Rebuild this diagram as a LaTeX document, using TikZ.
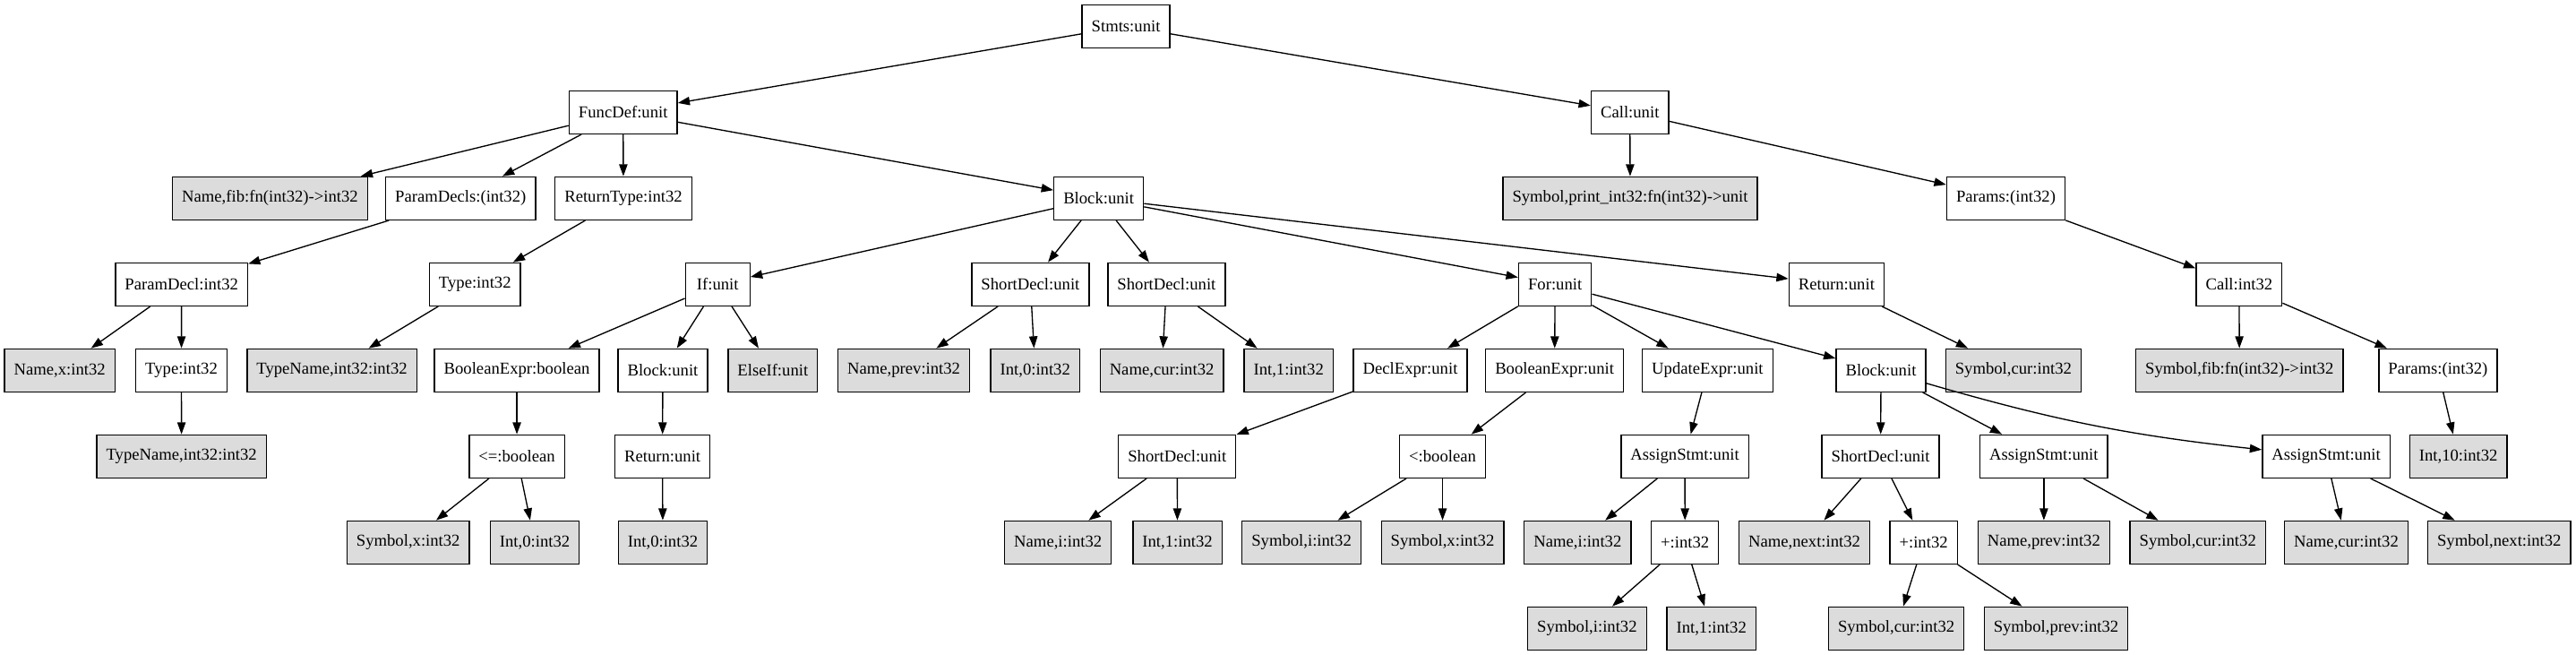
\documentclass[tikz,border=0pt]{standalone}
\usepackage{fontspec}
\setmainfont{Liberation Serif}
\usepackage{tikz}
\usetikzlibrary{arrows.meta}
\definecolor{leafgray}{RGB}{220,220,220}

\begin{document}
\begin{tikzpicture}[x=1pt, y=1pt,
    ast/.style={rectangle, draw=black, line width=1pt, minimum width=54pt, minimum height=36pt,
        inner xsep=7.92pt, inner ysep=3.96pt, font=\fontsize{14}{16}\selectfont},
    inner/.style={ast, fill=white},
    leaf/.style={ast, fill=leafgray}]
\useasboundingbox (0,0) rectangle (2157,-548.25);
\begin{scope}[every node/.style={inner}]
    \node (stmts) at (942.8,-22) {Stmts:unit};
    \node (funcdef) at (521.8,-94) {FuncDef:unit};
    \node (callu) at (1364.8,-94) {Call:unit};
    \node (paramdecls) at (385.7,-166) {ParamDecls:(int32)};
    \node (rettype) at (522,-166) {ReturnType:int32};
    \node (block) at (920,-166) {Block:unit};
    \node (params) at (1679.6,-166) {Params:(int32)};
    \node (paramdecl) at (152,-238) {ParamDecl:int32};
    \node (rtype) at (397.7,-238) {Type:int32};
    \node (if) at (600.9,-238) {If:unit};
    \node (sdprev) at (862.8,-238) {ShortDecl:unit};
    \node (sdcur) at (976.8,-238) {ShortDecl:unit};
    \node (for) at (1302.1,-238) {For:unit};
    \node (return) at (1537.8,-238) {Return:unit};
    \node (callint) at (1874.9,-238) {Call:int32};
    \node (ptype) at (151.9,-310) {Type:int32};
    \node (boolexpr) at (432.8,-310) {BooleanExpr:boolean};
    \node (ifblock) at (555,-310) {Block:unit};
    \node (declexpr) at (1180.9,-310) {DeclExpr:unit};
    \node (condexpr) at (1301.7,-310) {BooleanExpr:unit};
    \node (updexpr) at (1429.8,-310) {UpdateExpr:unit};
    \node (forblock) at (1575,-310) {Block:unit};
    \node (args) at (2041.4,-310) {Params:(int32)};
    \node (le) at (432.8,-382) {<=:boolean};
    \node (ifreturn) at (554.7,-382) {Return:unit};
    \node (sdi) at (985.7,-382) {ShortDecl:unit};
    \node (lt) at (1207.9,-382) {<:boolean};
    \node (assigni) at (1410.8,-382) {AssignStmt:unit};
    \node (sdnext) at (1574.7,-382) {ShortDecl:unit};
    \node (assignprev) at (1711.4,-382) {AssignStmt:unit};
    \node (assigncur) at (1947.8,-382) {AssignStmt:unit};
    \node (plusi) at (1410.9,-454) {+:int32};
    \node (plusnext) at (1610.7,-454) {+:int32};
\end{scope}
\begin{scope}[every node/.style={leaf}]
    \node (namefib) at (226.1,-166) {Name,fib:fn(int32)->int32};
    \node (symprint) at (1365,-166) {Symbol,print\_int32:fn(int32)->unit};
    \node (namex) at (50,-310) {Name,x:int32};
    \node (typename) at (277.9,-310) {TypeName,int32:int32};
    \node (elseif) at (647.1,-310) {ElseIf:unit};
    \node (nameprev) at (756.8,-310) {Name,prev:int32};
    \node (intzero) at (866.8,-310) {Int,0:int32};
    \node (namecur) at (972.8,-310) {Name,cur:int32};
    \node (intone) at (1079,-310) {Int,1:int32};
    \node (symcur) at (1685.9,-310) {Symbol,cur:int32};
    \node (symfib) at (1875.2,-310) {Symbol,fib:fn(int32)->int32};
    \node (ptypename) at (152,-382) {TypeName,int32:int32};
    \node (intten) at (2058.5,-382) {Int,10:int32};
    \node (lesymx) at (341.8,-454) {Symbol,x:int32};
    \node (lezero) at (447.8,-454) {Int,0:int32};
    \node (retzero) at (555,-454) {Int,0:int32};
    \node (namei) at (885.9,-454) {Name,i:int32};
    \node (initone) at (985.9,-454) {Int,1:int32};
    \node (ltsymi) at (1089.8,-454) {Symbol,i:int32};
    \node (ltsymx) at (1207.9,-454) {Symbol,x:int32};
    \node (assname) at (1321,-454) {Name,i:int32};
    \node (namenext) at (1510.9,-454) {Name,next:int32};
    \node (nameprev2) at (1711.4,-454) {Name,prev:int32};
    \node (symcur2) at (1840.3,-454) {Symbol,cur:int32};
    \node (namecur2) at (1964.6,-454) {Name,cur:int32};
    \node (symnext) at (2092.7,-454) {Symbol,next:int32};
    \node (plussymi) at (1328.9,-526) {Symbol,i:int32};
    \node (plusone) at (1433,-526) {Int,1:int32};
    \node (plussymcur) at (1587.8,-526) {Symbol,cur:int32};
    \node (plussymprev) at (1721.6,-526) {Symbol,prev:int32};
\end{scope}
\begin{scope}[>={Triangle[length=10pt,width=7pt]}, every edge/.style={draw=black,line width=1pt}]
    \path [->] (stmts) edge (funcdef);
    \path [->] (stmts) edge (callu);
    \path [->] (funcdef) edge (namefib);
    \path [->] (funcdef) edge (paramdecls);
    \path [->] (funcdef) edge (rettype);
    \path [->] (funcdef) edge (block);
    \path [->] (callu) edge (symprint);
    \path [->] (callu) edge (params);
    \path [->] (paramdecls) edge (paramdecl);
    \path [->] (rettype) edge (rtype);
    \path [->] (block) edge (if);
    \path [->] (block) edge (sdprev);
    \path [->] (block) edge (sdcur);
    \path [->] (block) edge (for);
    \path [->] (block) edge (return);
    \path [->] (params) edge (callint);
    \path [->] (paramdecl) edge (namex);
    \path [->] (paramdecl) edge (ptype);
    \path [->] (rtype) edge (typename);
    \path [->] (if) edge (boolexpr);
    \path [->] (if) edge (ifblock);
    \path [->] (if) edge (elseif);
    \path [->] (sdprev) edge (nameprev);
    \path [->] (sdprev) edge (intzero);
    \path [->] (sdcur) edge (namecur);
    \path [->] (sdcur) edge (intone);
    \path [->] (for) edge (declexpr);
    \path [->] (for) edge (condexpr);
    \path [->] (for) edge (updexpr);
    \path [->] (for) edge (forblock);
    \path [->] (return) edge (symcur);
    \path [->] (callint) edge (symfib);
    \path [->] (callint) edge (args);
    \path [->] (ptype) edge (ptypename);
    \path [->] (boolexpr) edge (le);
    \path [->] (ifblock) edge (ifreturn);
    \path [->] (declexpr) edge (sdi);
    \path [->] (condexpr) edge (lt);
    \path [->] (updexpr) edge (assigni);
    \path [->] (forblock) edge (sdnext);
    \path [->] (forblock) edge (assignprev);
    \path [->] (forblock) edge[bend right=5] (assigncur);
    \path [->] (args) edge (intten);
    \path [->] (le) edge (lesymx);
    \path [->] (le) edge (lezero);
    \path [->] (ifreturn) edge (retzero);
    \path [->] (sdi) edge (namei);
    \path [->] (sdi) edge (initone);
    \path [->] (lt) edge (ltsymi);
    \path [->] (lt) edge (ltsymx);
    \path [->] (assigni) edge (assname);
    \path [->] (assigni) edge (plusi);
    \path [->] (sdnext) edge (namenext);
    \path [->] (sdnext) edge (plusnext);
    \path [->] (assignprev) edge (nameprev2);
    \path [->] (assignprev) edge (symcur2);
    \path [->] (assigncur) edge (namecur2);
    \path [->] (assigncur) edge (symnext);
    \path [->] (plusi) edge (plussymi);
    \path [->] (plusi) edge (plusone);
    \path [->] (plusnext) edge (plussymcur);
    \path [->] (plusnext) edge (plussymprev);
\end{scope}
\end{tikzpicture}
\end{document}
